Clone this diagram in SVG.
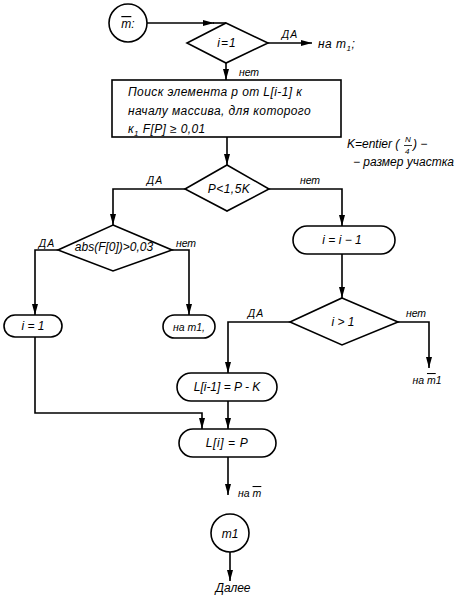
<svg xmlns="http://www.w3.org/2000/svg" width="456" height="595" viewBox="0 0 456 595">
<style>
.ln{fill:none;stroke:#000;stroke-width:1.6}
.sh{fill:#fff;stroke:#000;stroke-width:1.6}
.t{font-family:"Liberation Sans",Arial,sans-serif;font-style:italic;font-size:12px;fill:#000}
.m{text-anchor:middle}
.s{font-size:10.5px}
.ov{text-decoration:overline}
</style>
<defs>
<marker id="ar" markerUnits="userSpaceOnUse" markerWidth="12" markerHeight="7" refX="11" refY="3.5" orient="auto">
<path d="M0,0.5 L11,3.5 L0,6.5 z" fill="#000"/>
</marker>
</defs>
<rect width="456" height="595" fill="#fff"/>
<g id="connectors">
<path class="ln" d="M147,23 H214" marker-end="url(#ar)"/>
<path class="ln" d="M213,23 H226"/>
<path class="ln" d="M268,43 H312" marker-end="url(#ar)"/>
<path class="ln" d="M226,63 V80" marker-end="url(#ar)"/>
<path class="ln" d="M227,137 V165" marker-end="url(#ar)"/>
<path class="ln" d="M185,189 H113 V225" marker-end="url(#ar)"/>
<path class="ln" d="M269,189 H342 V226" marker-end="url(#ar)"/>
<path class="ln" d="M58,250 H35 V315" marker-end="url(#ar)"/>
<path class="ln" d="M172,250 H189 V315" marker-end="url(#ar)"/>
<path class="ln" d="M342,254 V298" marker-end="url(#ar)"/>
<path class="ln" d="M290,322 H228 V373" marker-end="url(#ar)"/>
<path class="ln" d="M398,322 H429 V368" marker-end="url(#ar)"/>
<path class="ln" d="M35,337 V413 H202 V429" marker-end="url(#ar)"/>
<path class="ln" d="M228,401 V429" marker-end="url(#ar)"/>
<path class="ln" d="M228,457 V495" marker-end="url(#ar)"/>
<path class="ln" d="M230,552 V581" marker-end="url(#ar)"/>
</g>
<g id="start">
<circle class="sh" cx="128" cy="23" r="19"/>
<text class="t m" x="128" y="28" font-size="13"><tspan class="ov">m</tspan>:</text>
</g>
<g id="d_i1">
<path class="sh" d="M226,23 L268,43 L226,63 L187,43 z"/>
<text class="t m" x="227" y="47" letter-spacing="1">i=1</text>
<text class="t m s" x="290" y="38" letter-spacing="1">ДА</text>
<text class="t" x="318" y="48" letter-spacing="0.5">на   m<tspan font-size="8" dy="3">1</tspan><tspan dy="-3">;</tspan></text>
<text class="t m s" x="249" y="76">нет</text>
</g>
<g id="search">
<rect class="sh" x="112" y="80" width="229" height="57"/>
<text class="t" x="128" y="96" font-size="12.5" letter-spacing="0.4">Поиск элемента р от L[i-1] к</text>
<text class="t" x="128" y="115" font-size="12.5" letter-spacing="0.4">началу массива, для которого</text>
<text class="t" x="128" y="133" font-size="12.5" letter-spacing="0.4">к<tspan font-size="8" dy="3">1</tspan><tspan dy="-3"> F[P] ≥ 0,01</tspan></text>
</g>
<g id="note">
<text class="t" font-size="11"><tspan x="347" y="148">K=entier (</tspan><tspan x="405" y="142" font-size="8">N</tspan><tspan x="405" y="154" font-size="8">4</tspan><tspan x="413" y="148">) −</tspan><tspan x="353" y="166">− размер участка</tspan></text>
<path d="M404,145.5 H412" stroke="#000" stroke-width="0.8"/>
</g>
<g id="d_p">
<path class="sh" d="M227,165 L269,189 L227,211 L185,189 z"/>
<text class="t m" x="229" y="193" letter-spacing="0.5">P&lt;1,5K</text>
<text class="t m s" x="155" y="184" letter-spacing="1">ДА</text>
<text class="t m s" x="310" y="184">нет</text>
</g>
<g id="d_abs">
<path class="sh" d="M113,225 L172,250 L113,271 L58,250 z"/>
<text class="t m" x="114" y="251" font-size="9.5">abs(F[0])&gt;0,03</text>
<text class="t m s" x="47" y="247" letter-spacing="1">ДА</text>
<text class="t m s" x="186" y="247">нет</text>
</g>
<g id="i_dec">
<rect class="sh" x="293" y="226" width="102" height="28" rx="14"/>
<text class="t m" x="342" y="244">i = i − 1</text>
</g>
<g id="i_one">
<rect class="sh" x="4" y="315" width="58" height="22" rx="11"/>
<text class="t m" x="33" y="330">i = 1</text>
</g>
<g id="to_m1">
<rect class="sh" x="163" y="315" width="52" height="23" rx="11.5"/>
<text class="t m s" x="189" y="331">на m1,</text>
</g>
<g id="d_gt">
<path class="sh" d="M342,298 L398,322 L342,345 L290,322 z"/>
<text class="t m" x="343" y="326">i &gt; 1</text>
<text class="t m s" x="256" y="317" letter-spacing="1">ДА</text>
<text class="t m s" x="416" y="317">нет</text>
<text class="t m s" x="427" y="384">на <tspan class="ov">m</tspan>1</text>
</g>
<g id="l_prev">
<rect class="sh" x="177" y="373" width="100" height="28" rx="14"/>
<text class="t m" x="227" y="391" font-size="11.5">L[i-1] = P - K</text>
</g>
<g id="l_cur">
<rect class="sh" x="179" y="429" width="97" height="28" rx="14"/>
<text class="t m" x="227" y="447" letter-spacing="0.6">L[i] = P</text>
<text class="t s" x="238" y="497">на <tspan class="ov">m</tspan></text>
</g>
<g id="m1">
<circle class="sh" cx="230" cy="533" r="19"/>
<text class="t m" x="230" y="538" font-size="13">m1</text>
<text class="t m" x="233" y="592" font-size="12.5">Далее</text>
</g>
</svg>
